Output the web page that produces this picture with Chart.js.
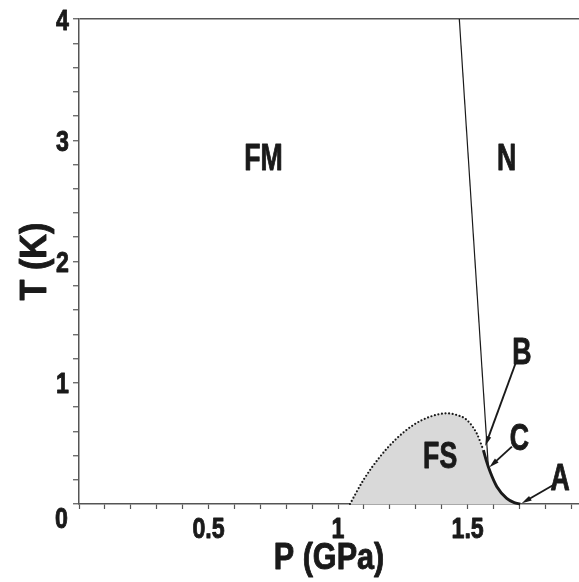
<!DOCTYPE html>
<html>
<head>
<meta charset="utf-8">
<script src="https://cdn.jsdelivr.net/npm/chart.js@4.4.1/dist/chart.umd.min.js"></script>
<style>
  html, body { margin: 0; padding: 0; background: #fff; }
  #wrap { width: 579px; height: 582px; }
</style>
</head>
<body>
<div id="wrap"><canvas id="chart" width="579" height="582"></canvas></div>
<script>
// --- data ---
// FS dome, dotted boundary (P in GPa, T in K)
const fsDotP = [1.046, 1.098, 1.162, 1.227, 1.291, 1.355, 1.420, 1.458, 1.497, 1.535, 1.561];
const fsDotT = [0.000, 0.198, 0.390, 0.542, 0.652, 0.720, 0.748, 0.734, 0.693, 0.583, 0.445];
// thick solid first-order line down to T = 0
const solidP = [1.561, 1.572, 1.587, 1.613, 1.651, 1.680, 1.703];
const solidT = [0.445, 0.360, 0.266, 0.143, 0.047, 0.012, 0.000];
// thin FM / N boundary
const thinP = [1.468, 1.580];
const thinT = [4.0, 0.308];

// region labels (centre of the letters)
const regionNames = ['FM', 'N', 'FS', 'B', 'C', 'A'];
const regionP = [0.712, 1.651, 1.394, 1.709, 1.700, 1.857];
const regionT = [2.864, 2.864, 0.404, 1.264, 0.550, 0.225];

// arrows: start -> tip
const arrowFromP = [1.687, 1.671, 1.831];
const arrowFromT = [1.171, 0.473, 0.157];
const arrowToP = [1.568, 1.584, 1.709];
const arrowToT = [0.478, 0.303, 0.006];

// ticks
const xTickValues = [0, 0.1, 0.2, 0.3, 0.4, 0.5, 0.6, 0.7, 0.8, 0.9, 1, 1.1, 1.2, 1.3, 1.4, 1.5, 1.6, 1.7, 1.8, 1.9];
const yTickValues = [0, 0.2, 0.4, 0.6, 0.8, 1, 1.2, 1.4, 1.6, 1.8, 2, 2.2, 2.4, 2.6, 2.8, 3, 3.2, 3.4, 3.6, 3.8, 4];
const xLabelValues = [0.5, 1, 1.5];
const xLabels = ['0.5', '1', '1.5'];
const yLabelValues = [1, 2, 3, 4];
const yLabels = ['1', '2', '3', '4'];
const xTitle = 'P (GPa)';
const yTitle = 'T (K)';

// Helvetica-Condensed look: Liberation Sans Bold squeezed horizontally
const FONT = "'Liberation Sans', Arial, sans-serif";
const INK = '#1a1a1a';
const AXIS = '#555555';

function pts(px, py) {
    return px.map((p, i) => ({ x: p, y: py[i] }));
}

function condText(ctx, str, x, y, size, sx, align, rot) {
    ctx.save();
    ctx.translate(x, y);
    if (rot) ctx.rotate(rot);
    ctx.scale(sx, 1);
    ctx.font = 'bold ' + size + 'px ' + FONT;
    ctx.textAlign = align;
    ctx.textBaseline = 'alphabetic';
    ctx.fillStyle = INK;
    ctx.strokeStyle = INK;
    ctx.lineWidth = 0.9;
    ctx.lineJoin = 'round';
    ctx.fillText(str, 0, 0);
    ctx.strokeText(str, 0, 0);
    ctx.restore();
}

const overlay = {
    id: 'overlay',
    afterDraw(chart) {
        const { ctx, chartArea } = chart;
        const xs = chart.scales.x, ys = chart.scales.y;
        ctx.save();

        // arrows
        ctx.strokeStyle = INK;
        ctx.fillStyle = INK;
        ctx.lineWidth = 1.9;
        arrowFromP.forEach((p, i) => {
            const x0 = xs.getPixelForValue(p), y0 = ys.getPixelForValue(arrowFromT[i]);
            const x1 = xs.getPixelForValue(arrowToP[i]), y1 = ys.getPixelForValue(arrowToT[i]);
            const a = Math.atan2(y1 - y0, x1 - x0);
            ctx.beginPath();
            ctx.moveTo(x0, y0);
            ctx.lineTo(x1 - 5 * Math.cos(a), y1 - 5 * Math.sin(a));
            ctx.stroke();
            ctx.beginPath();
            ctx.moveTo(x1, y1);
            ctx.lineTo(x1 - 10 * Math.cos(a) + 2.7 * Math.sin(a), y1 - 10 * Math.sin(a) - 2.7 * Math.cos(a));
            ctx.lineTo(x1 - 10 * Math.cos(a) - 2.7 * Math.sin(a), y1 - 10 * Math.sin(a) + 2.7 * Math.cos(a));
            ctx.closePath();
            ctx.fill();
        });

        // region and point labels
        regionNames.forEach((name, i) => {
            condText(ctx, name, xs.getPixelForValue(regionP[i]), ys.getPixelForValue(regionT[i]) + 12.8, 36, 0.74, 'center');
        });

        // tick labels
        const y0 = ys.getPixelForValue(0);
        xLabelValues.forEach((v, i) => {
            condText(ctx, xLabels[i], xs.getPixelForValue(v), y0 + 34, 29, 0.8, 'center');
        });
        yLabelValues.forEach((v, i) => {
            condText(ctx, yLabels[i], xs.getPixelForValue(0) - 10, ys.getPixelForValue(v) + 10.5, 29, 0.8, 'right');
        });
        // shared origin label
        condText(ctx, '0', xs.getPixelForValue(0) - 17.5, y0 + 24, 29, 0.8, 'center');

        // axis titles
        condText(ctx, xTitle, (chartArea.left + chartArea.right) / 2, 569, 36, 0.85, 'center');
        condText(ctx, yTitle, 46, (chartArea.top + chartArea.bottom) / 2, 36, 0.95, 'center', -Math.PI / 2);
        ctx.restore();
    }
};

new Chart(document.getElementById('chart'), {
    type: 'line',
    data: {
        datasets: [
            {
                label: 'thin',
                data: pts(thinP, thinT),
                borderColor: INK,
                borderWidth: 1.2,
                pointRadius: 0,
                fill: false,
                clip: 4
            },
            {
                label: 'solid',
                data: pts(solidP, solidT),
                borderColor: INK,
                borderWidth: 2.9,
                pointRadius: 0,
                cubicInterpolationMode: 'monotone',
                fill: false,
                clip: 4
            },
            {
                label: 'dotted',
                data: pts(fsDotP, fsDotT),
                borderColor: INK,
                borderWidth: 2.2,
                borderDash: [0, 3.6],
                borderCapStyle: 'round',
                pointRadius: 0,
                cubicInterpolationMode: 'monotone',
                fill: false,
                clip: 4
            },
            {
                label: 'FS region',
                data: pts(fsDotP.concat(solidP.slice(1)), fsDotT.concat(solidT.slice(1))),
                borderWidth: 0,
                borderColor: 'rgba(0,0,0,0)',
                backgroundColor: '#d9d9d9',
                pointRadius: 0,
                cubicInterpolationMode: 'monotone',
                fill: 'origin'
            }
        ]
    },
    options: {
        responsive: false,
        animation: false,
        devicePixelRatio: 1,
        layout: { padding: { top: 19, right: 0, left: 0, bottom: 0 } },
        plugins: {
            legend: { display: false },
            tooltip: { enabled: false }
        },
        scales: {
            x: {
                type: 'linear',
                min: 0,
                max: 1.93,
                z: 1,
                afterBuildTicks: (s) => { s.ticks = xTickValues.map(v => ({ value: v })); },
                afterFit: (s) => { s.height = 78; },
                border: { display: true, color: AXIS, width: 1.5 },
                grid: { drawOnChartArea: false, drawTicks: true, tickLength: 5, tickColor: AXIS, tickWidth: 1.2 },
                ticks: { display: false }
            },
            y: {
                type: 'linear',
                min: 0,
                max: 4,
                z: 1,
                afterBuildTicks: (s) => { s.ticks = yTickValues.map(v => ({ value: v })); },
                afterFit: (s) => { s.width = 79; },
                border: { display: true, color: AXIS, width: 1.5 },
                grid: {
                    drawOnChartArea: true,
                    drawTicks: true,
                    tickLength: 6,
                    tickColor: AXIS,
                    tickWidth: 1.2,
                    lineWidth: 1.5,
                    color: (c) => (c.tick && c.tick.value === 4) ? AXIS : 'rgba(0,0,0,0)'
                },
                ticks: { display: false }
            }
        }
    },
    plugins: [overlay]
});
</script>
</body>
</html>
